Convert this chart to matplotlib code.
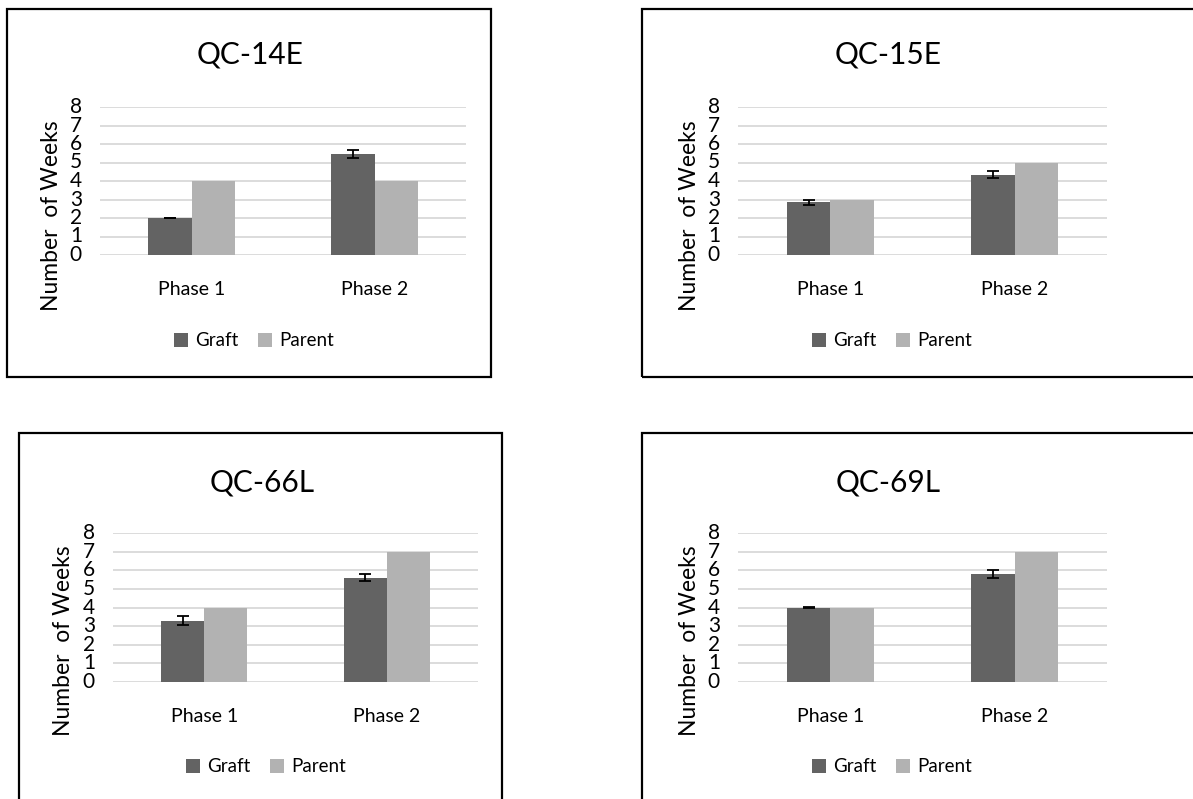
import numpy as np
import matplotlib
matplotlib.use("Agg")
import matplotlib.pyplot as plt
from matplotlib.patches import Rectangle

plt.rcParams['font.family'] = ['Lato', 'DejaVu Sans']

phases = ["Phase 1", "Phase 2"]
series = ["Graft", "Parent"]
titles = ["QC-14E", "QC-15E", "QC-66L", "QC-69L"]

# weeks per phase, one list per clone
graft = [[2.0, 5.45], [2.85, 4.35], [3.3, 5.6], [4.0, 5.8]]
graft_err = [[0.02, 0.2], [0.14, 0.2], [0.22, 0.2], [0.03, 0.22]]
parent = [[4, 4], [3, 5], [4, 7], [4, 7]]

yticks = [0, 1, 2, 3, 4, 5, 6, 7, 8]

GRAFT_C = "#636363"
PARENT_C = "#b2b2b2"
GRID_C = "#d9d9d9"

W, H = 1193, 799
fig = plt.figure(figsize=(W / 100, H / 100), dpi=100)

def fx(x):
    return x / W

def fy(y):
    return 1 - y / H

# layout in pixels (top-down): frame box, plot area, title, ylabel, legend
panels = [
    dict(box=(7, 9, 491, 377), ax=(100, 107, 466, 255), title=(250, 55), ylab=(52, 216), leg=(254, 341)),
    dict(box=(642, 9, 1210, 377), ax=(738, 107, 1107, 255), title=(888, 55), ylab=(690, 216), leg=(892, 341)),
    dict(box=(19, 433, 502, 820), ax=(113, 533, 478, 682), title=(262, 482), ylab=(63, 641), leg=(266, 767)),
    dict(box=(642, 433, 1210, 820), ax=(738, 533, 1107, 682), title=(888, 482), ylab=(690, 641), leg=(892, 767)),
]

bw = 0.235
x = np.arange(len(phases))

for i, p in enumerate(panels):
    x0, y0, x1, y1 = p["box"]
    fig.patches.append(Rectangle((fx(x0), fy(y1)), fx(x1 - x0), (y1 - y0) / H,
                                 transform=fig.transFigure, fill=False,
                                 edgecolor="black", linewidth=1.6, zorder=0))

    a0, b0, a1, b1 = p["ax"]
    ax = fig.add_axes([fx(a0), fy(b1), fx(a1 - a0), (b1 - b0) / H])
    ax.set_facecolor("none")
    b_g = ax.bar(x - bw / 2, graft[i], bw, color=GRAFT_C, label=series[0], zorder=3)
    b_p = ax.bar(x + bw / 2, parent[i], bw, color=PARENT_C, label=series[1], zorder=3)
    ax.errorbar(x - bw / 2, graft[i], yerr=graft_err[i], fmt="none", ecolor="black",
                elinewidth=1.3, capsize=4.5, capthick=1.3, zorder=4)

    ax.set_xlim(-0.5, 1.5)
    ax.set_ylim(0, 8)
    ax.set_yticks(yticks)
    ax.set_yticklabels([str(t) for t in yticks], fontsize=15)
    ax.set_xticks(x)
    ax.set_xticklabels(phases, fontsize=14)
    ax.tick_params(axis="both", length=0)
    ax.tick_params(axis="x", pad=19)
    ax.tick_params(axis="y", pad=13)
    for s in ax.spines.values():
        s.set_visible(False)
    ax.yaxis.grid(True, color=GRID_C, linewidth=1.3, zorder=0)
    ax.set_axisbelow(True)
    for lab in ax.get_yticklabels():
        lab.set_verticalalignment("center")

    tx, ty = p["title"]
    fig.text(fx(tx), fy(ty), titles[i], fontsize=21.5, ha="center", va="center")
    lx, ly = p["ylab"]
    fig.text(fx(lx), fy(ly), "Number  of Weeks", fontsize=16.5, rotation=90,
             ha="center", va="center")
    gx, gy = p["leg"]
    fig.legend(handles=[b_g, b_p], labels=series, loc="center",
               bbox_to_anchor=(fx(gx), fy(gy)), ncol=2, frameon=False,
               fontsize=13.5, handlelength=0.75, handleheight=0.75,
               handletextpad=0.4, columnspacing=1.0, borderpad=0)

fig.savefig("out.png", dpi=100)
